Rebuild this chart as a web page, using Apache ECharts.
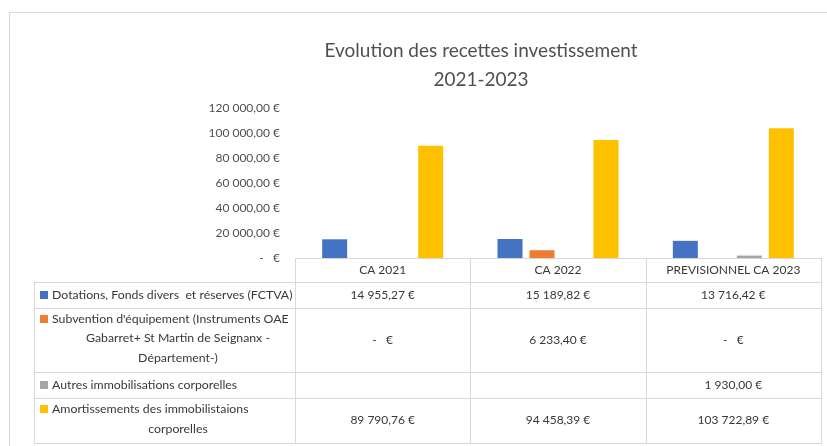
<!DOCTYPE html>
<html>
<head>
<meta charset="utf-8">
<script src="https://cdn.jsdelivr.net/npm/echarts@6/dist/echarts.min.js"></script>
<style>
html,body{margin:0;padding:0;background:#fff;}
#chart{width:827px;height:446px;}
</style>
</head>
<body>
<div id="chart"></div>
<script>
// ---- data ----
const categories = ['CA 2021', 'CA 2022', 'PREVISIONNEL CA 2023'];
const seriesNames = [
  'Dotations, Fonds divers  et réserves (FCTVA)',
  "Subvention d'équipement (Instruments OAE\nGabarret+ St Martin de Seignanx -\nDépartement-)",
  'Autres immobilisations corporelles',
  'Amortissements des immobilistaions\ncorporelles'
];
const dotations = [14955.27, 15189.82, 13716.42];
const subvention = [0, 6233.40, 0];
const autres = [null, null, 1930.00];
const amortissements = [89790.76, 94458.39, 103722.89];
const yTicks = [0, 20000, 40000, 60000, 80000, 100000, 120000];
const titleText = 'Evolution des recettes investissement\n2021-2023';

// ---- style / layout ----
const colors = ['#4472C4', '#ED7D31', '#A5A5A5', '#FFC000'];
const FONT = 'Lato, "Open Sans", sans-serif';
const gridLeft = 295, gridRight = 821, gridTop = 108, axisY = 258;
const W = 827, H = 446;
const tableLeft = 34;
const rowBounds = [282, 308, 372, 398, 443];
const lineColor = '#D9D9D9';
const textColor = '#383838';

function fmtEuro(v) {
  if (v === null || v === undefined) return '';
  if (v === 0) return '-   €';
  const parts = v.toFixed(2).split('.');
  return parts[0].replace(/\B(?=(\d{3})+(?!\d))/g, ' ') + ',' + parts[1] + ' €';
}

const allSeries = [dotations, subvention, autres, amortissements];

// ---- table graphic ----
const g = [];
function line(x1, y1, x2, y2) {
  g.push({type: 'line', silent: true, z: 10,
    shape: {x1: x1, y1: y1, x2: x2, y2: y2},
    style: {stroke: lineColor, lineWidth: 1}});
}
function txt(s, x, y, align, size) {
  g.push({type: 'text', silent: true, z: 11, x: x, y: y,
    style: {text: s, fontSize: size || 12, fontFamily: FONT, fill: textColor,
      textAlign: align || 'center', textVerticalAlign: 'middle'}});
}
// outer frame
line(9, 12.5, W, 12.5);
line(9.5, 12, 9.5, H);

const colW = (gridRight - gridLeft) / categories.length;
for (let c = 0; c <= categories.length; c++) {
  const x = Math.round(gridLeft + c * colW) + 0.5;
  line(x, axisY, x, rowBounds[rowBounds.length - 1]);
}
line(tableLeft + 0.5, rowBounds[0], tableLeft + 0.5, rowBounds[rowBounds.length - 1]);
rowBounds.forEach(function (y) {
  line(tableLeft, y + 0.5, gridRight + 1, y + 0.5);
});
line(gridLeft, axisY + 0.5, gridRight + 1, axisY + 0.5);

const LH = 19.5;
seriesNames.forEach(function (name, r) {
  const top = rowBounds[r], bot = rowBounds[r + 1];
  const cy = (top + bot) / 2;
  const lines = name.split('\n');
  const y0 = cy - (lines.length - 1) * LH / 2 - (lines.length > 1 ? 1.5 : 0);
  lines.forEach(function (ln, k) {
    const y = y0 + k * LH;
    if (k === 0) {
      g.push({type: 'rect', silent: true, z: 11,
        shape: {x: 40, y: Math.round(y) - 4, width: 8, height: 8},
        style: {fill: colors[r]}});
      txt(ln, 52, y, 'left', 12.3);
    } else {
      txt(ln, 178, y, 'center', 12.3);
    }
  });
  allSeries[r].forEach(function (v, c) {
    txt(fmtEuro(v), gridLeft + (c + 0.5) * colW, cy, 'center', 12);
  });
});

const chart = echarts.init(document.getElementById('chart'), null, {renderer: 'canvas'});
chart.setOption({
  animation: false,
  backgroundColor: '#fff',
  color: colors,
  title: {
    text: titleText,
    left: 481,
    top: 36,
    padding: 0,
    textAlign: 'center',
    textStyle: {fontFamily: FONT, fontSize: 19, fontWeight: 'normal', color: '#505050', lineHeight: 29}
  },
  grid: {left: gridLeft, right: W - gridRight, top: gridTop, bottom: H - axisY, containLabel: false},
  xAxis: {
    type: 'category',
    data: categories,
    axisLine: {show: false},
    axisTick: {show: false},
    axisLabel: {margin: 6, fontFamily: FONT, fontSize: 12, color: textColor}
  },
  yAxis: {
    type: 'value',
    min: yTicks[0],
    max: yTicks[yTicks.length - 1],
    interval: yTicks[1] - yTicks[0],
    axisLine: {show: false},
    axisTick: {show: false},
    splitLine: {show: false},
    axisLabel: {margin: 15, fontFamily: FONT, fontSize: 12, color: '#505050',
      formatter: function (v) { return fmtEuro(v); }}
  },
  series: seriesNames.map(function (n, i) {
    return {
      name: n.replace(/\n/g, ' '),
      type: 'bar',
      data: allSeries[i],
      barWidth: 25,
      barGap: '28%',
      itemStyle: {color: colors[i]}
    };
  }),
  graphic: g
});
</script>
</body>
</html>
